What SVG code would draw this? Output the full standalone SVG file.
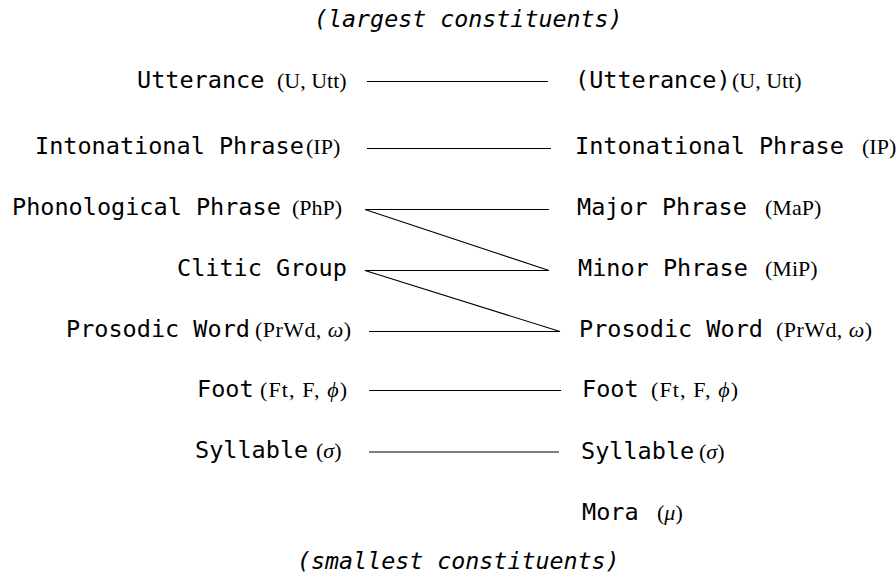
<svg xmlns="http://www.w3.org/2000/svg" width="896" height="583" viewBox="0 0 896 583">
<style>
.m{font-family:"DejaVu Sans Mono",monospace;font-size:23.5px;fill:#000}
.t{font-family:"DejaVu Sans Mono",monospace;font-size:23.3px;font-style:italic;fill:#000}
.s{font-family:"Liberation Serif","Times New Roman",serif;font-size:22px;fill:#000}
.i{font-style:italic}
.c line{stroke:#000;stroke-width:1.1}
</style>
<rect width="896" height="583" fill="#fff"/>
<text class="t" x="314" y="27">(largest constituents)</text>
<text class="t" x="297" y="569">(smallest constituents)</text>
<g id="left-utterance"><text class="m" x="137" y="88">Utterance</text><text class="s" x="277" y="88">(U, Utt)</text></g>
<g id="left-ip"><text class="m" x="35" y="154">Intonational Phrase</text><text class="s" x="306" y="154">(IP)</text></g>
<g id="left-php"><text class="m" x="12" y="215">Phonological Phrase</text><text class="s" x="292" y="215">(PhP)</text></g>
<g id="left-clitic"><text class="m" x="177" y="276">Clitic Group</text></g>
<g id="left-prwd"><text class="m" x="66" y="337">Prosodic Word</text><text class="s" x="255" y="337" textLength="96" lengthAdjust="spacing">(PrWd, <tspan class="i">ω</tspan>)</text></g>
<g id="left-foot"><text class="m" x="197" y="397">Foot</text><text class="s" x="260" y="397" textLength="87" lengthAdjust="spacing">(Ft, F, <tspan class="i">ϕ</tspan>)</text></g>
<g id="left-syll"><text class="m" x="195" y="458">Syllable</text><text class="s" x="316" y="458">(<tspan class="i">σ</tspan>)</text></g>
<g id="right-utterance"><text class="m" x="575" y="88">(Utterance)</text><text class="s" x="732" y="88">(U, Utt)</text></g>
<g id="right-ip"><text class="m" x="575" y="154">Intonational Phrase</text><text class="s" x="862" y="154">(IP)</text></g>
<g id="right-map"><text class="m" x="577" y="215">Major Phrase</text><text class="s" x="765" y="215">(MaP)</text></g>
<g id="right-mip"><text class="m" x="578" y="276">Minor Phrase</text><text class="s" x="765" y="276">(MiP)</text></g>
<g id="right-prwd"><text class="m" x="579" y="337">Prosodic Word</text><text class="s" x="776" y="337" textLength="96" lengthAdjust="spacing">(PrWd, <tspan class="i">ω</tspan>)</text></g>
<g id="right-foot"><text class="m" x="582" y="397">Foot</text><text class="s" x="651" y="397" textLength="87" lengthAdjust="spacing">(Ft, F, <tspan class="i">ϕ</tspan>)</text></g>
<g id="right-syll"><text class="m" x="581" y="459">Syllable</text><text class="s" x="699" y="459">(<tspan class="i">σ</tspan>)</text></g>
<g id="right-mora"><text class="m" x="582" y="520">Mora</text><text class="s" x="657" y="520">(<tspan class="i">μ</tspan>)</text></g>
<g id="connectors" class="c">
<line x1="367" y1="81.5" x2="548" y2="81.5"/>
<line x1="367" y1="148.5" x2="551" y2="148.5"/>
<line x1="365" y1="209.5" x2="549" y2="209.5"/>
<line x1="365" y1="209.5" x2="549" y2="270.5"/>
<line x1="365" y1="270.5" x2="549" y2="270.5"/>
<line x1="365" y1="270.5" x2="560" y2="331.5"/>
<line x1="369" y1="331.5" x2="560" y2="331.5"/>
<line x1="369" y1="390.5" x2="561" y2="390.5"/>
<line x1="369" y1="452" x2="559" y2="452"/>
</g>
</svg>
